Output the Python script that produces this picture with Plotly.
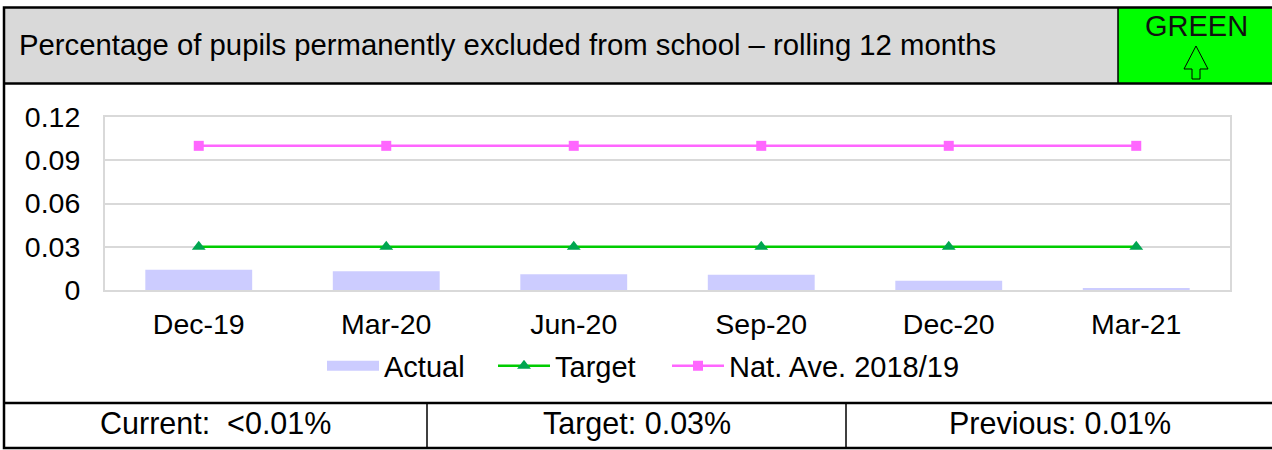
import plotly.graph_objects as go

categories = ["Dec-19", "Mar-20", "Jun-20", "Sep-20", "Dec-20", "Mar-21"]
actual = [0.014, 0.013, 0.011, 0.0105, 0.0065, 0.001]
target = [0.03, 0.03, 0.03, 0.03, 0.03, 0.03]
nat_ave = [0.10, 0.10, 0.10, 0.10, 0.10, 0.10]
y_ticks = [0, 0.03, 0.06, 0.09, 0.12]
y_tick_labels = ["0", "0.03", "0.06", "0.09", "0.12"]

W, H = 1272, 450
FONT = "Liberation Sans, Arial, sans-serif"

def px(x):
    return x / W

def py(y):
    return 1 - y / H

BAR_COLOR = "#CCCCFF"
fig = go.Figure()
fig.add_trace(go.Bar(x=categories, y=actual, name="Actual", showlegend=False, legendgroup="a",
                     marker=dict(color=BAR_COLOR, line=dict(width=0)), width=0.57))
# legend swatch for the bars (wide rectangle like the original)
fig.add_trace(go.Scatter(x=[None], y=[None], name="Actual", mode="lines", legendgroup="a", legend="legend",
                         line=dict(color=BAR_COLOR, width=15)))
fig.add_trace(go.Scatter(x=categories, y=target, name="Target", mode="lines+markers", legend="legend2",
                         line=dict(color="#00CC00", width=2.5),
                         marker=dict(symbol="triangle-up", size=12, color="#00A650")))
fig.add_trace(go.Scatter(x=categories, y=nat_ave, name="Nat. Ave. 2018/19", mode="lines+markers",
                         legend="legend3",
                         line=dict(color="#FF66FF", width=2.5),
                         marker=dict(symbol="square", size=10, color="#FF66FF")))

shapes = []
shapes.append(dict(type="rect", xref="paper", yref="paper", x0=px(4), x1=px(1118), y0=py(83.5), y1=py(7.5),
                   fillcolor="#D9D9D9", line=dict(width=0), layer="below"))
shapes.append(dict(type="rect", xref="paper", yref="paper", x0=px(1118), x1=px(1280), y0=py(83.5), y1=py(7.5),
                   fillcolor="#00FF00", line=dict(width=0), layer="below"))
shapes.append(dict(type="line", xref="paper", yref="paper", x0=px(1118), x1=px(1118), y0=py(83.5), y1=py(7.5),
                   line=dict(color="black", width=1.5)))
# outer frame (right side falls outside the picture)
shapes.append(dict(type="rect", xref="paper", yref="paper", x0=px(4), x1=px(1285), y0=py(448), y1=py(7.5),
                   fillcolor="rgba(0,0,0,0)", line=dict(color="black", width=2.5)))
shapes.append(dict(type="line", xref="paper", yref="paper", x0=px(4), x1=px(1285), y0=py(83.5), y1=py(83.5),
                   line=dict(color="black", width=2.5)))
shapes.append(dict(type="line", xref="paper", yref="paper", x0=px(4), x1=px(1285), y0=py(403), y1=py(403),
                   line=dict(color="black", width=2.5)))
for xs in (427, 846):
    shapes.append(dict(type="line", xref="paper", yref="paper", x0=px(xs), x1=px(xs), y0=py(403), y1=py(448),
                       line=dict(color="black", width=1.5)))
# outlined up arrow under GREEN
ax = [1196, 1208, 1200, 1200, 1192, 1192, 1184]
ay = [46, 69, 69, 79, 79, 69, 69]
path = "M " + " L ".join(f"{px(a):.5f},{py(b):.5f}" for a, b in zip(ax, ay)) + " Z"
shapes.append(dict(type="path", xref="paper", yref="paper", path=path,
                   fillcolor="rgba(0,0,0,0)", line=dict(color="black", width=1)))

annotations = [
    dict(text="Percentage of pupils permanently excluded from school – rolling 12 months",
         xref="paper", yref="paper", x=px(17), y=py(45), xanchor="left", yanchor="middle",
         showarrow=False, font=dict(family=FONT, size=29.3, color="black")),
    dict(text="GREEN", xref="paper", yref="paper", x=px(1196), y=py(26), xanchor="center", yanchor="middle",
         showarrow=False, font=dict(family=FONT, size=29, color="#111111")),
    dict(text="Current:  &lt;0.01%", xref="paper", yref="paper", x=px(215), y=py(423), xanchor="center",
         yanchor="middle", showarrow=False, font=dict(family=FONT, size=30.5, color="black")),
    dict(text="Target: 0.03%", xref="paper", yref="paper", x=px(637), y=py(423), xanchor="center",
         yanchor="middle", showarrow=False, font=dict(family=FONT, size=30.5, color="black")),
    dict(text="Previous: 0.01%", xref="paper", yref="paper", x=px(1060), y=py(423), xanchor="center",
         yanchor="middle", showarrow=False, font=dict(family=FONT, size=30.5, color="black")),
]

def legend_at(x_left):
    return dict(orientation="h", x=px(x_left), y=py(366), xanchor="left", yanchor="middle",
                font=dict(family=FONT, size=29, color="black"), itemwidth=52,
                bgcolor="rgba(0,0,0,0)")

fig.update_layout(
    width=W, height=H, autosize=False,
    margin=dict(l=0, r=0, t=0, b=0, pad=0, autoexpand=False),
    paper_bgcolor="white", plot_bgcolor="white",
    font=dict(family=FONT, size=28, color="black"),
    showlegend=True,
    legend=legend_at(322),
    legend2=legend_at(493),
    legend3=legend_at(667),
    xaxis=dict(domain=[px(105), px(1230)], range=[-0.5, 5.5], type="category",
               showgrid=False, showline=True, linecolor="#D9D9D9", linewidth=2, mirror=True,
               ticks="outside", ticklen=8, tickcolor="rgba(0,0,0,0)", automargin=False,
               tickfont=dict(family=FONT, size=28.5, color="black")),
    yaxis=dict(domain=[py(290), py(117)], range=[0, 0.12], tickvals=y_ticks, ticktext=y_tick_labels,
               showgrid=True, gridcolor="#D9D9D9", gridwidth=2, showline=True, linecolor="#D9D9D9",
               linewidth=2, mirror=True, zeroline=False, automargin=False,
               ticks="outside", ticklen=17, tickcolor="rgba(0,0,0,0)",
               tickfont=dict(family=FONT, size=28.5, color="black")),
    shapes=shapes,
    annotations=annotations,
    bargap=0.43,
)

fig.write_html("out.html", config={"displayModeBar": False},
               post_script="document.body.style.margin='0';document.body.style.overflow='hidden';")
